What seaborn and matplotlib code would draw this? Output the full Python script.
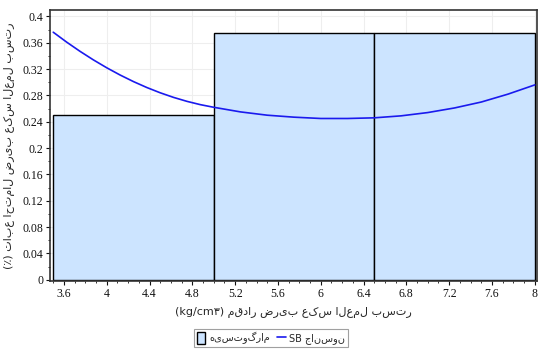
import numpy as np
import matplotlib
matplotlib.use("Agg")
import matplotlib.pyplot as plt
import seaborn as sns
from matplotlib.ticker import MultipleLocator

# histogram (relative frequency per bin)
bin_edges = [3.5, 5.0, 6.5, 8.0]
bin_heights = [0.25, 0.375, 0.375]

# Johnson SB fit
curve_x = [3.5, 3.625, 3.75, 3.875, 4.0, 4.125, 4.25, 4.375, 4.5, 4.625, 4.75, 4.875,
           5.0, 5.25, 5.5, 5.75, 6.0, 6.25, 6.5, 6.75, 7.0, 7.25, 7.5, 7.75, 8.0]
curve_y = [0.376, 0.361, 0.347, 0.334, 0.322, 0.311, 0.301, 0.292, 0.284, 0.277, 0.271, 0.266,
           0.262, 0.255, 0.250, 0.247, 0.245, 0.245, 0.246, 0.249, 0.254, 0.261, 0.270, 0.282, 0.296]

x_label = "(kg/cm۳) مقدار ضریب عکس العمل بستر"
y_label = "(٪) تابع احتمال ضریب عکس العمل بستر"
hist_label = "هیستوگرام"
fit_label = "SB جانسون"

sns.set_style("white")
plt.rcParams['font.family'] = ['DejaVu Sans']

fig = plt.figure(figsize=(5.38, 3.51), dpi=100)
ax = fig.add_axes([0.093, 0.199, 0.905, 0.773])

centers = [(a + b) / 2 for a, b in zip(bin_edges[:-1], bin_edges[1:])]
sns.histplot(x=centers, weights=bin_heights, bins=bin_edges, stat="count",
             color="#cce4ff", edgecolor="black", linewidth=1.0, alpha=1.0,
             ax=ax, label=hist_label, zorder=2)
sns.lineplot(x=curve_x, y=curve_y, color="#1a1aee", linewidth=1.2, ax=ax,
             label=fit_label, zorder=3)

ax.set_xlim(3.47, 8.02)
ax.set_ylim(-0.002, 0.41)
xt = np.round(np.arange(3.6, 8.01, 0.4), 1)
ax.set_xticks(xt)
ax.set_xticklabels([f"{v:g}" for v in xt])
yt = np.round(np.arange(0, 0.401, 0.04), 2)
ax.set_yticks(yt)
ax.set_yticklabels([f"{v:g}" for v in yt])
ax.xaxis.set_minor_locator(MultipleLocator(0.1))
ax.yaxis.set_minor_locator(MultipleLocator(0.02))
ax.tick_params(which="major", direction="out", length=3, width=0.8,
               labelsize=8.5, pad=2, colors="#111111")
ax.tick_params(which="minor", direction="out", length=1.5, width=0.6, colors="#111111")
for lab in ax.get_xticklabels() + ax.get_yticklabels():
    lab.set_family("Liberation Serif")
ax.tick_params(axis="both", which="both", bottom=True, left=True)

ax.grid(True, which="major", color="#eeeeee", linewidth=0.8, zorder=0)
ax.set_axisbelow(True)
for s in ax.spines.values():
    s.set_color("#333333")
    s.set_linewidth(1.2)

ax.set_xlabel(x_label, fontsize=8, labelpad=5)
ax.set_ylabel(y_label, fontsize=8, labelpad=5)

handles, labels = ax.get_legend_handles_labels()
order = [labels.index(hist_label), labels.index(fit_label)]
leg = ax.legend([handles[i] for i in order], [labels[i] for i in order],
                loc="center", bbox_to_anchor=(0.454, -0.21), ncol=2, fontsize=7,
                frameon=True, fancybox=False, edgecolor="#888888",
                handlelength=0.9, handleheight=1.5, handletextpad=0.4,
                columnspacing=0.7, borderpad=0.3, borderaxespad=0)
leg.get_frame().set_linewidth(0.8)

fig.savefig("out.png", dpi=100, facecolor="white")
